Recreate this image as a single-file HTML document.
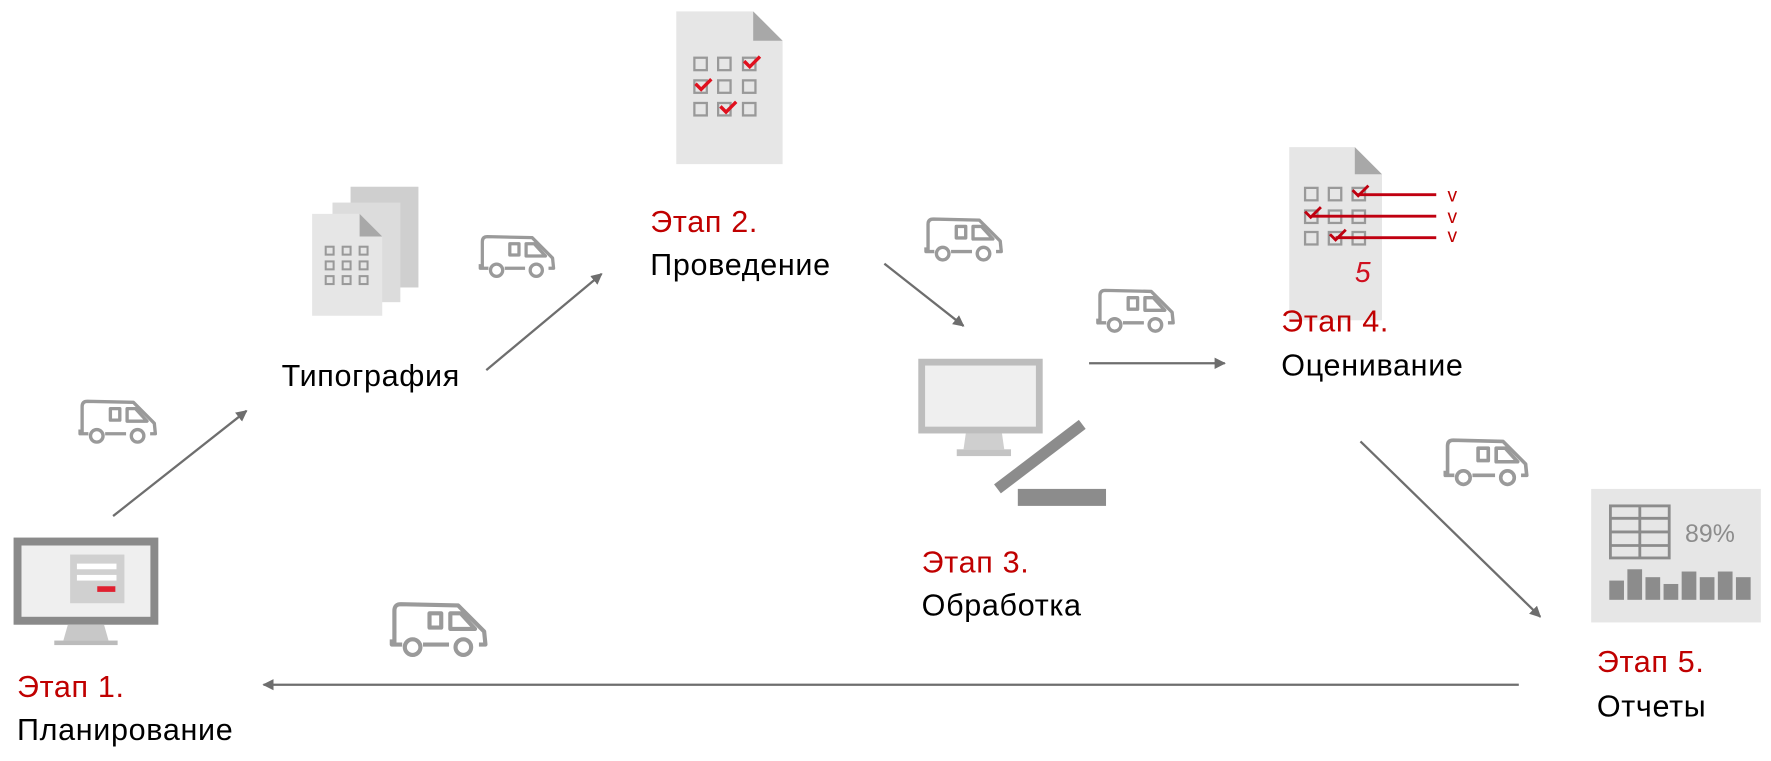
<!DOCTYPE html>
<html><head><meta charset="utf-8"><style>
html,body{margin:0;padding:0;background:#fff;}
body{width:1771px;height:756px;overflow:hidden;}
text{font-family:"Liberation Sans","DejaVu Sans",sans-serif;}
.lbl{font-size:27px;fill:#000;letter-spacing:0.6px;}
.red{font-size:27px;fill:#c00000;letter-spacing:0.6px;}
</style></head><body>
<svg width="1771" height="756" viewBox="0 0 1566 668" preserveAspectRatio="none" xmlns="http://www.w3.org/2000/svg">
<defs>
<marker id="ah" markerWidth="10" markerHeight="10" refX="9" refY="5" orient="auto" markerUnits="userSpaceOnUse">
<path d="M0,0 L10,5 L0,10 Z" fill="#6e6e6e"/></marker>
<symbol id="van" viewBox="0 0 80 48">
<g fill="none" stroke="#9a9a9a" stroke-width="3.2" stroke-linejoin="round">
<path d="M5 34 L5 8 Q5 3 10 3 L54 4 L74 24 L75 34 L70 34 M47 34 L27 34 M11 34 L3 34 L3 30"/>
<rect x="32" y="10" width="9" height="11"/>
<path d="M48 10 L56 10 L67 22 L48 22 Z"/>
<circle cx="19" cy="36" r="6"/><circle cx="58" cy="36" r="6"/>
</g></symbol>
</defs>

<g stroke="#6e6e6e" stroke-width="2" fill="none" marker-end="url(#ah)">
<line x1="100" y1="456" x2="218" y2="363"/>
<line x1="430" y1="327" x2="532" y2="242"/>
<line x1="782" y1="233" x2="852" y2="288"/>
<line x1="963" y1="321" x2="1083" y2="321"/>
<line x1="1203" y1="390" x2="1362" y2="545"/>
<line x1="1343" y1="605" x2="233" y2="605"/>
</g>

<use href="#van" x="68" y="350" width="74" height="48"/>
<use href="#van" x="422" y="206" width="72" height="44"/>
<use href="#van" x="816" y="190" width="74" height="46"/>
<use href="#van" x="968" y="253" width="74" height="46"/>
<use href="#van" x="1274" y="386" width="82" height="48"/>
<use href="#van" x="343" y="528" width="92" height="60"/>

<rect x="12" y="475" width="128" height="77" fill="#8a8a8a"/>
<rect x="19" y="482" width="114" height="63" fill="#efefef"/>
<rect x="62" y="490" width="48" height="43" fill="#d0d0d0"/>
<rect x="68" y="498" width="35" height="5" fill="#fff"/>
<rect x="68" y="508" width="35" height="5" fill="#fff"/>
<rect x="86" y="518" width="16" height="5" fill="#e02030"/>
<path d="M60 552 L92 552 L96 566 L56 566 Z" fill="#c8c8c8"/>
<rect x="48" y="566" width="56" height="4" fill="#bbb"/>

<rect x="310" y="165" width="60" height="89" fill="#cfcfcf"/>
<rect x="294" y="179" width="60" height="88" fill="#dcdcdc"/>
<path d="M276 189 L318 189 L338 209 L338 279 L276 279 Z" fill="#e6e6e6"/>
<path d="M318 189 L338 209 L318 209 Z" fill="#a8a8a8"/>
<g fill="none" stroke="#999" stroke-width="1.8">
<rect x="288" y="218" width="7" height="7"/><rect x="303" y="218" width="7" height="7"/><rect x="318" y="218" width="7" height="7"/>
<rect x="288" y="231" width="7" height="7"/><rect x="303" y="231" width="7" height="7"/><rect x="318" y="231" width="7" height="7"/>
<rect x="288" y="244" width="7" height="7"/><rect x="303" y="244" width="7" height="7"/><rect x="318" y="244" width="7" height="7"/>
</g>

<path d="M598 10 L666 10 L692 36 L692 145 L598 145 Z" fill="#e6e6e6"/>
<path d="M666 10 L692 36 L666 36 Z" fill="#a8a8a8"/>
<g fill="none" stroke="#999" stroke-width="2">
<rect x="614" y="51" width="11" height="11"/><rect x="635" y="51" width="11" height="11"/><rect x="657" y="51" width="11" height="11"/>
<rect x="614" y="71" width="11" height="11"/><rect x="635" y="71" width="11" height="11"/><rect x="657" y="71" width="11" height="11"/>
<rect x="614" y="91" width="11" height="11"/><rect x="635" y="91" width="11" height="11"/><rect x="657" y="91" width="11" height="11"/>
</g>
<g fill="none" stroke="#e0101e" stroke-width="3">
<path d="M658 54 L663 59 L672 50"/><path d="M615 74 L620 79 L629 70"/><path d="M637 94 L642 99 L651 90"/>
</g>

<rect x="812" y="317" width="110" height="66" fill="#bdbdbd"/>
<rect x="818" y="323" width="98" height="54" fill="#efefef"/>
<path d="M854 383 L886 383 L888 397 L852 397 Z" fill="#cfcfcf"/>
<rect x="846" y="397" width="48" height="6" fill="#c4c4c4"/>
<path d="M879 428 L954 371 L960 379 L885 436 Z" fill="#8c8c8c"/>
<rect x="900" y="432" width="78" height="15" fill="#8c8c8c"/>

<path d="M1140 130 L1198 130 L1222 154 L1222 283 L1140 283 Z" fill="#e6e6e6"/>
<path d="M1198 130 L1222 154 L1198 154 Z" fill="#a8a8a8"/>
<g fill="none" stroke="#999" stroke-width="2">
<rect x="1154" y="166" width="11" height="11"/><rect x="1175" y="166" width="11" height="11"/><rect x="1196" y="166" width="11" height="11"/>
<rect x="1154" y="186" width="11" height="11"/><rect x="1175" y="186" width="11" height="11"/><rect x="1196" y="186" width="11" height="11"/>
<rect x="1154" y="205" width="11" height="11"/><rect x="1175" y="205" width="11" height="11"/><rect x="1196" y="205" width="11" height="11"/>
</g>
<g fill="none" stroke="#c00010" stroke-width="2.5">
<path d="M1196 168 L1201 173 L1210 164"/><path d="M1154 187 L1159 192 L1168 183"/><path d="M1176 207 L1181 212 L1190 203"/>
<line x1="1200" y1="172" x2="1270" y2="172"/><line x1="1160" y1="191" x2="1270" y2="191"/><line x1="1181" y1="210" x2="1270" y2="210"/>
</g>
<text x="1280" y="178" font-size="17" fill="#c00000">v</text>
<text x="1280" y="197" font-size="17" fill="#c00000">v</text>
<text x="1280" y="214" font-size="17" fill="#c00000">v</text>
<text x="1198" y="249" font-size="25" font-style="italic" fill="#d01020">5</text>

<rect x="1407" y="432" width="150" height="118" fill="#e6e6e6"/>
<g fill="none" stroke="#8c8c8c" stroke-width="2.5">
<rect x="1424" y="447" width="52" height="46"/>
<line x1="1450" y1="447" x2="1450" y2="493"/>
<line x1="1424" y1="458" x2="1476" y2="458"/><line x1="1424" y1="470" x2="1476" y2="470"/><line x1="1424" y1="482" x2="1476" y2="482"/>
</g>
<text x="1490" y="479" font-size="22" fill="#8c8c8c">89%</text>
<g fill="#8c8c8c">
<rect x="1423" y="513" width="13" height="17"/><rect x="1439" y="503" width="13" height="27"/><rect x="1455" y="510" width="13" height="20"/><rect x="1471" y="516" width="13" height="14"/>
<rect x="1487" y="505" width="13" height="25"/><rect x="1503" y="510" width="13" height="20"/><rect x="1519" y="505" width="13" height="25"/><rect x="1535" y="510" width="13" height="20"/>
</g>

<text class="red" x="15" y="616">Этап 1.</text>
<text class="lbl" x="15" y="654">Планирование</text>
<text class="lbl" x="249" y="341">Типография</text>
<text class="red" x="575" y="205">Этап 2.</text>
<text class="lbl" x="575" y="243">Проведение</text>
<text class="red" x="815" y="506">Этап 3.</text>
<text class="lbl" x="815" y="544">Обработка</text>
<text class="red" x="1133" y="293">Этап 4.</text>
<text class="lbl" x="1133" y="332">Оценивание</text>
<text class="red" x="1412" y="594">Этап 5.</text>
<text class="lbl" x="1412" y="633">Отчеты</text>
</svg>
</body></html>
